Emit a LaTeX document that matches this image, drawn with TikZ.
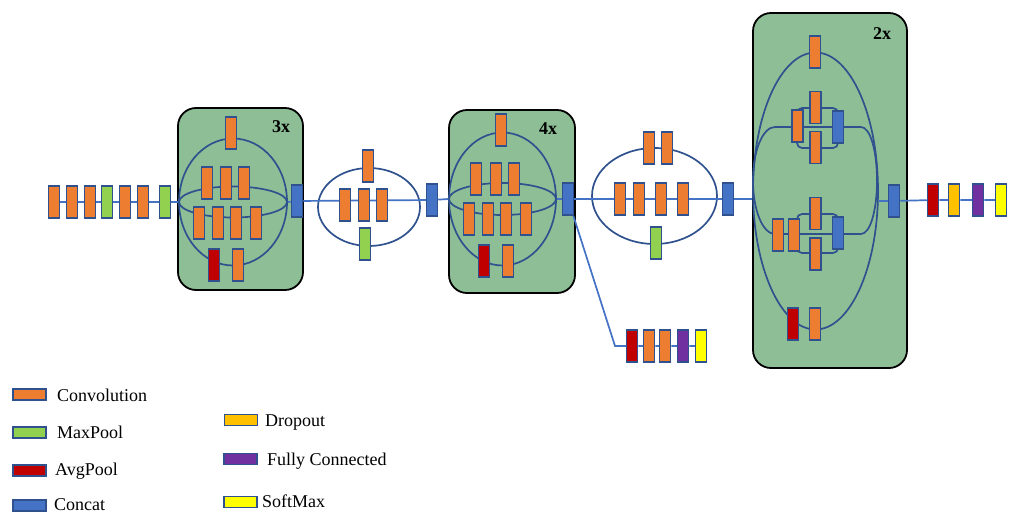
\documentclass[tikz,border=0pt]{standalone}
\usepackage{fontspec}
\setmainfont{Liberation Serif}
\usetikzlibrary{shapes.geometric}
\pgfdeclarelayer{boxes}
\pgfdeclarelayer{background}
\pgfsetlayers{boxes,background,main}

\definecolor{convc}{HTML}{ED7D31}
\definecolor{maxc}{HTML}{92D050}
\definecolor{avgc}{HTML}{C00000}
\definecolor{catc}{HTML}{4472C4}
\definecolor{dropc}{HTML}{FFC000}
\definecolor{fcc}{HTML}{7030A0}
\definecolor{softc}{HTML}{FFFF00}
\definecolor{edgec}{HTML}{2F528F}
\definecolor{linec}{HTML}{4472C4}
\definecolor{modc}{RGB}{142,190,150}

\tikzset{
  blk/.style={draw=edgec, line width=1.5pt, inner sep=0pt, minimum width=11pt, minimum height=32pt},
  conv/.style={blk, fill=convc},
  maxp/.style={blk, fill=maxc},
  avgp/.style={blk, fill=avgc},
  concat/.style={blk, fill=catc},
  drop/.style={blk, fill=dropc},
  fcl/.style={blk, fill=fcc},
  soft/.style={blk, fill=softc},
  swatch/.style={minimum width=33pt, minimum height=11pt},
  module/.style={draw=black, line width=1.8pt, fill=modc, rounded corners=18pt, inner sep=0pt},
  loopline/.style={draw=edgec, line width=1.7pt},
  ring/.style={ellipse, loopline, inner sep=0pt},
  link/.style={draw=linec, line width=1.7pt},
  lab/.style={font=\fontsize{18}{20}\selectfont, anchor=base west, inner sep=0pt},
  rep/.style={font=\fontsize{18}{20}\selectfont\bfseries, anchor=base west, inner sep=0pt},
}

\begin{document}
\begin{tikzpicture}[x=1pt, y=-1pt]
\useasboundingbox (0,0) rectangle (1014,514);

% inception blocks
\begin{pgfonlayer}{boxes}
\node[module, minimum width=125pt, minimum height=182pt] (m1) at (240.5,199) {};
\node[module, minimum width=126pt, minimum height=183pt] (m3) at (512,201.5) {};
\node[module, minimum width=154pt, minimum height=355pt] (m5) at (830,190.5) {};
\end{pgfonlayer}
\node[rep] (r1) at (272,132) {3x};
\node[rep] (r3) at (539,134) {4x};
\node[rep] (r5) at (873,39) {2x};

% branch outlines
\begin{pgfonlayer}{background}
\node[ring, minimum width=108pt, minimum height=127pt] (e1) at (233,202) {};
\node[ring, minimum width=108pt, minimum height=31pt] (h1) at (233,202) {};
\node[ring, minimum width=102pt, minimum height=78pt] (e2) at (369,207) {};
\node[ring, minimum width=107pt, minimum height=133pt] (e3) at (502.5,199) {};
\node[ring, minimum width=107pt, minimum height=32pt] (h3) at (502.5,199) {};
\node[ring, minimum width=125pt, minimum height=96pt] (e4) at (654.5,196) {};
\node[ring, minimum width=125pt, minimum height=277pt] (e5) at (815.5,191) {};
\draw[loopline] (775,127) -- (861,127) .. controls (870,127) and (877,150) .. (877,180.5)
  .. controls (877,211) and (870,234) .. (861,234) -- (775,234)
  .. controls (763,234) and (753,211) .. (753,180.5) .. controls (753,150) and (763,127) .. (775,127) -- cycle;
\draw[loopline, rounded corners=5pt] (797,108) rectangle (838,148);
\draw[loopline, rounded corners=5pt] (797,214) rectangle (838,253);
\end{pgfonlayer}

% stem
\node[conv] (s1) at (54,202) {};
\node[conv] (s2) at (72,202) {};
\node[conv] (s3) at (90,202) {};
\node[maxp] (s4) at (107,202) {};
\node[conv] (s5) at (125,202) {};
\node[conv] (s6) at (143,202) {};
\node[maxp] (s7) at (165,202) {};

% first inception
\node[conv] (a1) at (231,133) {};
\node[conv] (a2) at (207,183) {};
\node[conv] (a3) at (226,183) {};
\node[conv] (a4) at (244,183) {};
\node[conv] (a5) at (199,223) {};
\node[conv] (a6) at (218,223) {};
\node[conv] (a7) at (236,223) {};
\node[conv] (a8) at (256,223) {};
\node[avgp] (a9) at (214,265) {};
\node[conv] (a10) at (238,265) {};
\node[concat] (c1) at (297,201) {};

% first reduction
\node[conv] (b1) at (368,166) {};
\node[conv] (b2) at (345,205) {};
\node[conv] (b3) at (364,205) {};
\node[conv] (b4) at (382,205) {};
\node[maxp] (b5) at (365,244) {};
\node[concat] (c2) at (432,200) {};

% second inception
\node[conv] (d1) at (501,130) {};
\node[conv] (d2) at (476,179) {};
\node[conv] (d3) at (496,179) {};
\node[conv] (d4) at (514,179) {};
\node[conv] (d5) at (469,219) {};
\node[conv] (d6) at (488,219) {};
\node[conv] (d7) at (506,219) {};
\node[conv] (d8) at (526,219) {};
\node[avgp] (d9) at (484,261) {};
\node[conv] (d10) at (508,261) {};
\node[concat] (c3) at (568,199) {};

% auxiliary head
\coordinate (bend) at (615,346);
\node[avgp] (x1) at (632,346) {};
\node[conv] (x2) at (649,346) {};
\node[conv] (x3) at (665,346) {};
\node[fcl] (x4) at (683,346) {};
\node[soft] (x5) at (701,346) {};

% second reduction
\node[conv] (f1) at (649,148) {};
\node[conv] (f2) at (667,148) {};
\node[conv] (f3) at (620,199) {};
\node[conv] (f4) at (639,199) {};
\node[conv] (f5) at (661,199) {};
\node[conv] (f6) at (683,199) {};
\node[maxp] (f7) at (656,243) {};
\node[concat] (c4) at (728,199) {};

% third inception
\node[conv] (g1) at (815,52) {};
\node[conv] (g2) at (797.5,126) {};
\node[conv] (g3) at (815.5,107.5) {};
\node[conv] (g4) at (815.5,147.5) {};
\node[concat] (g5) at (838,127) {};
\node[conv] (g6) at (778,235) {};
\node[conv] (g7) at (794,235) {};
\node[conv] (g8) at (815.5,213.5) {};
\node[conv] (g9) at (815.5,254) {};
\node[concat] (g10) at (838,233) {};
\node[avgp] (g11) at (793,324) {};
\node[conv] (g12) at (815,324) {};
\node[concat] (c5) at (894,201) {};

% classifier
\node[avgp] (t1) at (933,200) {};
\node[drop] (t2) at (954,200) {};
\node[fcl] (t3) at (978,200) {};
\node[soft] (t4) at (1001,200) {};

% main path
\begin{pgfonlayer}{background}
\draw[link] (s1) -- (s2) -- (s3) -- (s4) -- (s5) -- (s6) -- (s7) -- (e1.west);
\draw[link] (e1.east) -- (c1) -- (c2) -- (e3.west);
\draw[link] (e3.east) -- (c3) -- (c4) -- (c4 -| e5.west);
\draw[link] (c3) -- (bend) -- (x1) -- (x2) -- (x3) -- (x4) -- (x5);
\draw[link] (c5 -| e5.east) -- (c5) -- (t1) -- (t2) -- (t3) -- (t4);
\end{pgfonlayer}

% legend
\node[conv, swatch] (k1) at (29.5,394.5) {};
\node[lab] (k1t) at (57,401) {Convolution};
\node[maxp, swatch] (k2) at (29.5,432.5) {};
\node[lab] (k2t) at (57,438) {MaxPool};
\node[avgp, swatch] (k3) at (29.5,470.5) {};
\node[lab] (k3t) at (55,475) {AvgPool};
\node[concat, swatch] (k4) at (29.5,505.5) {};
\node[lab] (k4t) at (54,510) {Concat};
\node[drop, swatch] (k5) at (241,420) {};
\node[lab] (k5t) at (265,426) {Dropout};
\node[fcl, swatch] (k6) at (240.5,459) {};
\node[lab] (k6t) at (267,465) {Fully Connected};
\node[soft, swatch] (k7) at (240.5,502) {};
\node[lab] (k7t) at (262,507.5) {SoftMax};
\end{tikzpicture}
\end{document}
